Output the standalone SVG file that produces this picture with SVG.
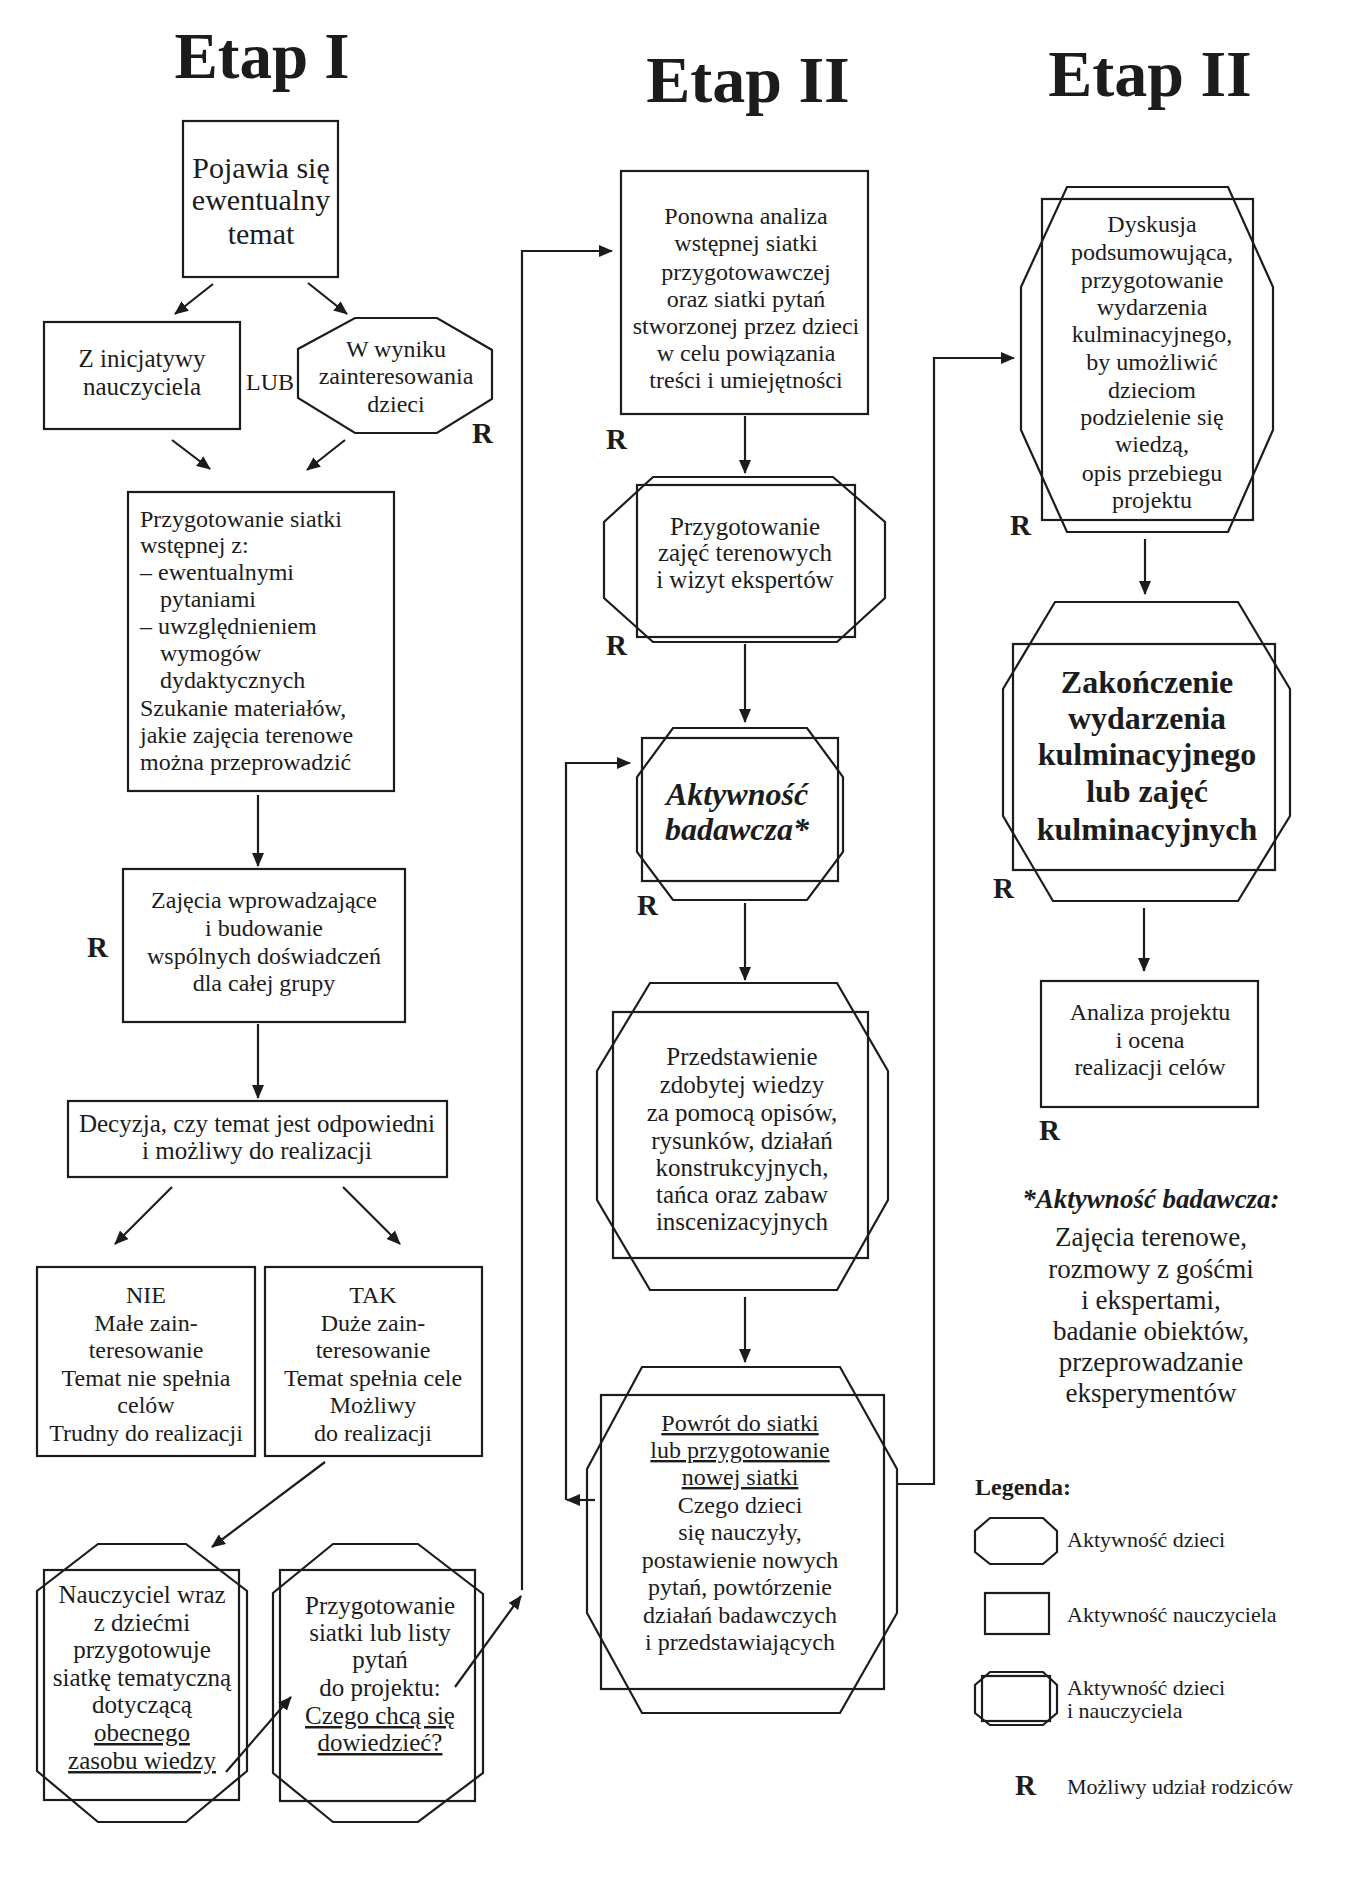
<svg xmlns="http://www.w3.org/2000/svg" width="1352" height="1880" viewBox="0 0 1352 1880">
<style>
.s{fill:none;stroke:#1c1c1c;stroke-width:2.2}
.c{fill:none;stroke:#1c1c1c;stroke-width:2.2}
text{font-family:"Liberation Serif","DejaVu Serif",serif;fill:#1c1c1c}
.m{text-anchor:middle;font-size:24px}
.m25{text-anchor:middle;font-size:25px}
.l{font-size:24px}
.title{font-size:66px;font-weight:bold;text-anchor:middle}
.r{font-size:29px;font-weight:bold}
.bi{font-weight:bold;font-style:italic}
.b{font-weight:bold}
.u{text-decoration:underline}
.lg{font-size:22px}
</style>
<defs>
<marker id="ah" markerUnits="userSpaceOnUse" viewBox="0 0 14 12" markerWidth="14" markerHeight="12" refX="13" refY="6" orient="auto">
<path d="M0,0 L14,6 L0,12 z" fill="#1c1c1c"/>
</marker>
</defs>
<rect x="0" y="0" width="1352" height="1880" fill="#ffffff"/>

<g id="titles">
<text class="title" x="262" y="78" style="font-size:65px">Etap I</text>
<text class="title" x="748" y="102">Etap II</text>
<text class="title" x="1150" y="96">Etap II</text>
</g>

<g id="connectors">
<line class="c" x1="213" y1="284" x2="175" y2="314" marker-end="url(#ah)"/>
<line class="c" x1="308" y1="283" x2="347" y2="314" marker-end="url(#ah)"/>
<line class="c" x1="172" y1="440" x2="210" y2="469" marker-end="url(#ah)"/>
<line class="c" x1="345" y1="440" x2="307" y2="470" marker-end="url(#ah)"/>
<line class="c" x1="258" y1="795" x2="258" y2="866" marker-end="url(#ah)"/>
<line class="c" x1="258" y1="1024" x2="258" y2="1098" marker-end="url(#ah)"/>
<line class="c" x1="172" y1="1187" x2="115" y2="1244" marker-end="url(#ah)"/>
<line class="c" x1="343" y1="1187" x2="400" y2="1244" marker-end="url(#ah)"/>
<line class="c" x1="325" y1="1462" x2="212" y2="1547" marker-end="url(#ah)"/>
<line class="c" x1="226" y1="1772" x2="291" y2="1697" marker-end="url(#ah)"/>
<line class="c" x1="455" y1="1687" x2="521" y2="1596" marker-end="url(#ah)"/>
<path class="c" d="M522,1590 L522,251 L612,251" marker-end="url(#ah)"/>
<line class="c" x1="745" y1="416" x2="745" y2="473" marker-end="url(#ah)"/>
<line class="c" x1="745" y1="644" x2="745" y2="722" marker-end="url(#ah)"/>
<path class="c" d="M566,1500 L566,763 L630,763" marker-end="url(#ah)"/>
<line class="c" x1="745" y1="903" x2="745" y2="980" marker-end="url(#ah)"/>
<line class="c" x1="745" y1="1297" x2="745" y2="1362" marker-end="url(#ah)"/>
<line class="c" x1="595" y1="1500" x2="567" y2="1500" marker-end="url(#ah)"/>
<path class="c" d="M897,1484 L934,1484 L934,358 L1014,358" marker-end="url(#ah)"/>
<line class="c" x1="1145" y1="539" x2="1145" y2="594" marker-end="url(#ah)"/>
<line class="c" x1="1144" y1="908" x2="1144" y2="971" marker-end="url(#ah)"/>
</g>

<g id="n-pojawia">
<rect class="s" x="183" y="121" width="155" height="156"/>
<text class="m" x="261" y="178" style="font-size:30px">Pojawia się</text>
<text class="m" x="261" y="210" style="font-size:30px">ewentualny</text>
<text class="m" x="261" y="244" style="font-size:30px">temat</text>
</g>

<g id="n-inicjatywa">
<rect class="s" x="44" y="322" width="196" height="107"/>
<text class="m25" x="142" y="367">Z inicjatywy</text>
<text class="m25" x="142" y="395">nauczyciela</text>
</g>
<text id="lub" class="l" x="246" y="390">LUB</text>

<g id="n-zainteresowanie">
<polygon class="s" points="355,318 437,318 492,350 492,399 437,433 355,433 298,398 298,349"/>
<text class="m" x="396" y="357">W wyniku</text>
<text class="m" x="396" y="384">zainteresowania</text>
<text class="m" x="396" y="412">dzieci</text>
<text class="r" x="472" y="443">R</text>
</g>

<g id="n-siatka">
<rect class="s" x="128" y="492" width="266" height="299"/>
<text class="l" x="140" y="527">Przygotowanie siatki</text>
<text class="l" x="140" y="553">wstępnej z:</text>
<text class="l" x="140" y="580">– ewentualnymi</text>
<text class="l" x="160" y="607">pytaniami</text>
<text class="l" x="140" y="634">– uwzględnieniem</text>
<text class="l" x="160" y="661">wymogów</text>
<text class="l" x="160" y="688">dydaktycznych</text>
<text class="l" x="140" y="716">Szukanie materiałów,</text>
<text class="l" x="140" y="743">jakie zajęcia terenowe</text>
<text class="l" x="140" y="770">można przeprowadzić</text>
</g>

<g id="n-wprowadzajace">
<rect class="s" x="123" y="869" width="282" height="153"/>
<text class="m" x="264" y="908">Zajęcia wprowadzające</text>
<text class="m" x="264" y="936">i budowanie</text>
<text class="m" x="264" y="964">wspólnych doświadczeń</text>
<text class="m" x="264" y="991">dla całej grupy</text>
<text class="r" x="87" y="957">R</text>
</g>

<g id="n-decyzja">
<rect class="s" x="68" y="1101" width="379" height="76"/>
<text class="m25" x="257" y="1132">Decyzja, czy temat jest odpowiedni</text>
<text class="m25" x="257" y="1159">i możliwy do realizacji</text>
</g>

<g id="n-nie">
<rect class="s" x="37" y="1267" width="218" height="189"/>
<text class="m" x="146" y="1303">NIE</text>
<text class="m" x="146" y="1331">Małe zain-</text>
<text class="m" x="146" y="1358">teresowanie</text>
<text class="m" x="146" y="1386">Temat nie spełnia</text>
<text class="m" x="146" y="1413">celów</text>
<text class="m" x="146" y="1441">Trudny do realizacji</text>
</g>

<g id="n-tak">
<rect class="s" x="265" y="1267" width="217" height="189"/>
<text class="m" x="373" y="1303">TAK</text>
<text class="m" x="373" y="1331">Duże zain-</text>
<text class="m" x="373" y="1358">teresowanie</text>
<text class="m" x="373" y="1386">Temat spełnia cele</text>
<text class="m" x="373" y="1413">Możliwy</text>
<text class="m" x="373" y="1441">do realizacji</text>
</g>

<g id="n-nauczyciel">
<rect class="s" x="44" y="1570" width="195" height="230"/>
<polygon class="s" points="98,1544 186,1544 247,1591 247,1771 186,1822 98,1822 37,1771 37,1591"/>
<text class="m25" x="142" y="1603">Nauczyciel wraz</text>
<text class="m25" x="142" y="1631">z dziećmi</text>
<text class="m25" x="142" y="1658">przygotowuje</text>
<text class="m25" x="142" y="1686">siatkę tematyczną</text>
<text class="m25" x="142" y="1713">dotyczącą</text>
<text class="m25 u" x="142" y="1741">obecnego</text>
<text class="m25 u" x="142" y="1769">zasobu wiedzy</text>
</g>

<g id="n-lista">
<rect class="s" x="280" y="1570" width="195" height="231"/>
<polygon class="s" points="333,1544 418,1544 483,1594 483,1773 418,1822 333,1822 273,1773 273,1593"/>
<text class="m25" x="380" y="1614">Przygotowanie</text>
<text class="m25" x="380" y="1641">siatki lub listy</text>
<text class="m25" x="380" y="1668">pytań</text>
<text class="m25" x="380" y="1696">do projektu:</text>
<text class="m25 u" x="380" y="1724">Czego chcą się</text>
<text class="m25 u" x="380" y="1751">dowiedzieć?</text>
</g>

<g id="n-ponowna">
<rect class="s" x="621" y="171" width="247" height="243"/>
<text class="m" x="746" y="224">Ponowna analiza</text>
<text class="m" x="746" y="251">wstępnej siatki</text>
<text class="m" x="746" y="280">przygotowawczej</text>
<text class="m" x="746" y="307">oraz siatki pytań</text>
<text class="m" x="746" y="334">stworzonej przez dzieci</text>
<text class="m" x="746" y="361">w celu powiązania</text>
<text class="m" x="746" y="388">treści i umiejętności</text>
<text class="r" x="606" y="449">R</text>
</g>

<g id="n-terenowe">
<rect class="s" x="637" y="485" width="218" height="152"/>
<polygon class="s" points="653,477 833,477 885,522 885,598 837,642 653,642 604,598 604,522"/>
<text class="m25" x="745" y="535">Przygotowanie</text>
<text class="m25" x="745" y="561">zajęć terenowych</text>
<text class="m25" x="745" y="588">i wizyt ekspertów</text>
<text class="r" x="606" y="655">R</text>
</g>

<g id="n-badawcza">
<rect class="s" x="642" y="738" width="196" height="143"/>
<polygon class="s" points="673,728 807,728 843,777 843,852 807,900 673,900 637,852 637,777"/>
<text class="m bi" x="737" y="805" style="font-size:32px">Aktywność</text>
<text class="m bi" x="737" y="840" style="font-size:32px">badawcza*</text>
<text class="r" x="637" y="915">R</text>
</g>

<g id="n-przedstawienie">
<rect class="s" x="613" y="1012" width="255" height="246"/>
<polygon class="s" points="650,983 837,983 888,1071 888,1200 837,1290 650,1290 597,1200 597,1071"/>
<text class="m25" x="742" y="1065">Przedstawienie</text>
<text class="m25" x="742" y="1093">zdobytej wiedzy</text>
<text class="m25" x="742" y="1121">za pomocą opisów,</text>
<text class="m25" x="742" y="1149">rysunków, działań</text>
<text class="m25" x="742" y="1176">konstrukcyjnych,</text>
<text class="m25" x="742" y="1203">tańca oraz zabaw</text>
<text class="m25" x="742" y="1230">inscenizacyjnych</text>
</g>

<g id="n-powrot">
<rect class="s" x="601" y="1395" width="283" height="294"/>
<polygon class="s" points="642,1367 840,1367 897,1469 897,1613 840,1713 642,1713 587,1613 587,1469"/>
<text class="m u" x="740" y="1431">Powrót do siatki</text>
<text class="m u" x="740" y="1458">lub przygotowanie</text>
<text class="m u" x="740" y="1485">nowej siatki</text>
<text class="m" x="740" y="1513">Czego dzieci</text>
<text class="m" x="740" y="1540">się nauczyły,</text>
<text class="m" x="740" y="1568">postawienie nowych</text>
<text class="m" x="740" y="1595">pytań, powtórzenie</text>
<text class="m" x="740" y="1623">działań badawczych</text>
<text class="m" x="740" y="1650">i przedstawiających</text>
</g>

<g id="n-dyskusja">
<rect class="s" x="1042" y="199" width="211" height="321"/>
<polygon class="s" points="1067,187 1228,187 1273,287 1273,430 1228,532 1067,532 1021,430 1021,287"/>
<text class="m" x="1152" y="232">Dyskusja</text>
<text class="m" x="1152" y="260">podsumowująca,</text>
<text class="m" x="1152" y="288">przygotowanie</text>
<text class="m" x="1152" y="315">wydarzenia</text>
<text class="m" x="1152" y="342">kulminacyjnego,</text>
<text class="m" x="1152" y="370">by umożliwić</text>
<text class="m" x="1152" y="398">dzieciom</text>
<text class="m" x="1152" y="425">podzielenie się</text>
<text class="m" x="1152" y="452">wiedzą,</text>
<text class="m" x="1152" y="481">opis przebiegu</text>
<text class="m" x="1152" y="508">projektu</text>
<text class="r" x="1010" y="535">R</text>
</g>

<g id="n-zakonczenie">
<rect class="s" x="1013" y="644" width="262" height="226"/>
<polygon class="s" points="1055,602 1238,602 1290,689 1290,816 1238,901 1053,901 1003,816 1003,689"/>
<text class="m b" x="1147" y="693" style="font-size:32px">Zakończenie</text>
<text class="m b" x="1147" y="729" style="font-size:32px">wydarzenia</text>
<text class="m b" x="1147" y="765" style="font-size:32px">kulminacyjnego</text>
<text class="m b" x="1147" y="802" style="font-size:32px">lub zajęć</text>
<text class="m b" x="1147" y="840" style="font-size:32px">kulminacyjnych</text>
<text class="r" x="993" y="898">R</text>
</g>

<g id="n-analiza">
<rect class="s" x="1041" y="981" width="217" height="126"/>
<text class="m" x="1150" y="1020">Analiza projektu</text>
<text class="m" x="1150" y="1048">i ocena</text>
<text class="m" x="1150" y="1075">realizacji celów</text>
<text class="r" x="1039" y="1140">R</text>
</g>

<g id="footnote">
<text class="bi" x="1151" y="1208" style="font-size:27px;text-anchor:middle">*Aktywność badawcza:</text>
<text x="1151" y="1246" style="font-size:27px;text-anchor:middle">Zajęcia terenowe,</text>
<text x="1151" y="1278" style="font-size:27px;text-anchor:middle">rozmowy z gośćmi</text>
<text x="1151" y="1309" style="font-size:27px;text-anchor:middle">i ekspertami,</text>
<text x="1151" y="1340" style="font-size:27px;text-anchor:middle">badanie obiektów,</text>
<text x="1151" y="1371" style="font-size:27px;text-anchor:middle">przeprowadzanie</text>
<text x="1151" y="1402" style="font-size:27px;text-anchor:middle">eksperymentów</text>
</g>

<g id="legend">
<text class="b" x="975" y="1495" style="font-size:24px">Legenda:</text>
<polygon class="s" points="990,1518 1043,1518 1057,1531 1057,1552 1043,1564 990,1564 975,1552 975,1531"/>
<text class="lg" x="1067" y="1547">Aktywność dzieci</text>
<rect class="s" x="985" y="1593" width="64" height="41"/>
<text class="lg" x="1067" y="1622">Aktywność nauczyciela</text>
<polygon class="s" points="990,1672 1043,1672 1057,1685 1057,1713 1043,1725 990,1725 975,1713 975,1685"/>
<rect class="s" x="982" y="1676" width="68" height="45"/>
<text class="lg" x="1067" y="1695">Aktywność dzieci</text>
<text class="lg" x="1067" y="1718">i nauczyciela</text>
<text class="r" x="1015" y="1795">R</text>
<text class="lg" x="1067" y="1794">Możliwy udział rodziców</text>
</g>
</svg>
